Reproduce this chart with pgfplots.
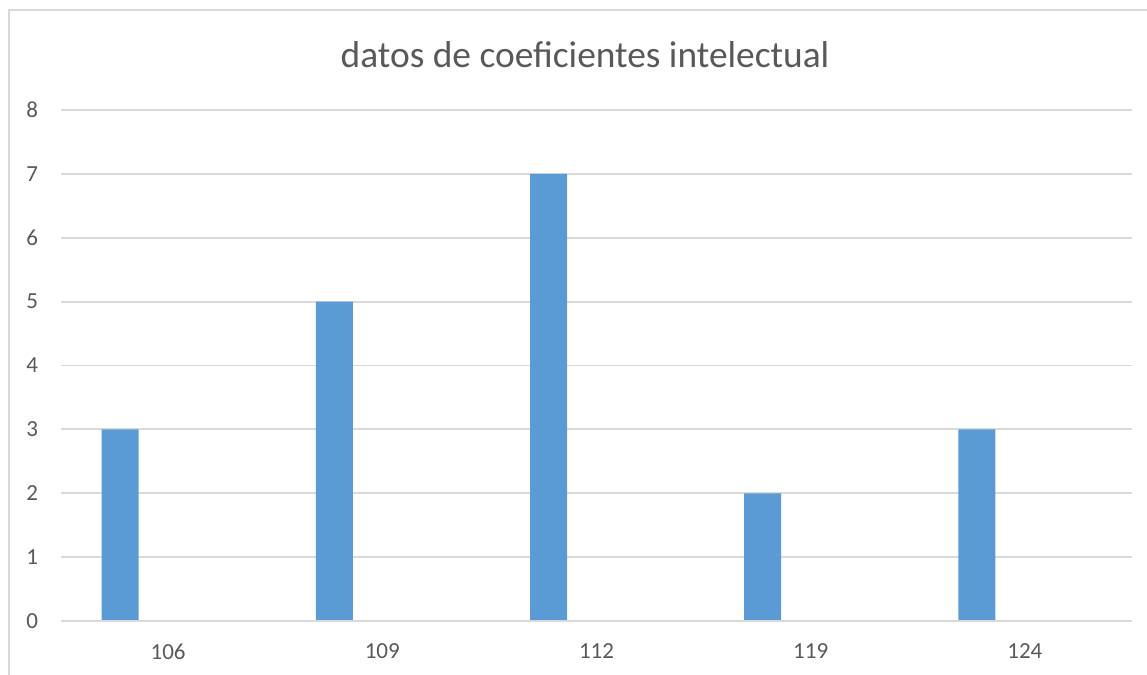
\documentclass[border=0pt]{standalone}
\usepackage{pgfplots}
\pgfplotsset{compat=1.18}
\usepackage{fontspec}
\setmainfont{Carlito}
\definecolor{barblue}{HTML}{5B9BD5}
\definecolor{gridgray}{HTML}{D9D9D9}
\definecolor{txtgray}{HTML}{595959}
\begin{document}
\begin{tikzpicture}
\useasboundingbox (0,0) rectangle (573.5pt,337.5pt);
\draw[gridgray, line width=1pt] (4.5pt,0) -- (4.5pt,332.5pt) -- (573.5pt,332.5pt);
\node[font=\fontsize{18.7}{22}\selectfont, text=txtgray] at (292.5pt,310pt) {datos de coeficientes intelectual};
\begin{axis}[
  at={(30.5pt,27pt)}, anchor=south west,
  scale only axis, width=535.5pt, height=255.5pt,
  xmin=-0.5, xmax=4.5, ymin=0, ymax=8,
  xtick={0,1,2,3,4}, xticklabels={106,109,112,119,124},
  ytick={0,1,...,8},
  axis line style={draw=none},
  axis x line*=bottom,
  major tick length=0pt,
  ymajorgrids, grid style={gridgray, line width=0.9pt},
  tick label style={font=\fontsize{11.5}{14}\selectfont, text=txtgray},
  /pgf/number format/assume math mode=true,
  xticklabel style={yshift=-8pt},
  yticklabel style={xshift=-8pt},
  clip=false,
]
\addplot[ybar, bar width=18.5pt, bar shift=-24pt, fill=barblue, draw=none] coordinates {(0,3) (1,5) (2,7) (3,2) (4,3)};
\draw[gridgray, line width=0.9pt] (rel axis cs:0,0) -- (rel axis cs:1,0);
\end{axis}
\end{tikzpicture}
\end{document}
